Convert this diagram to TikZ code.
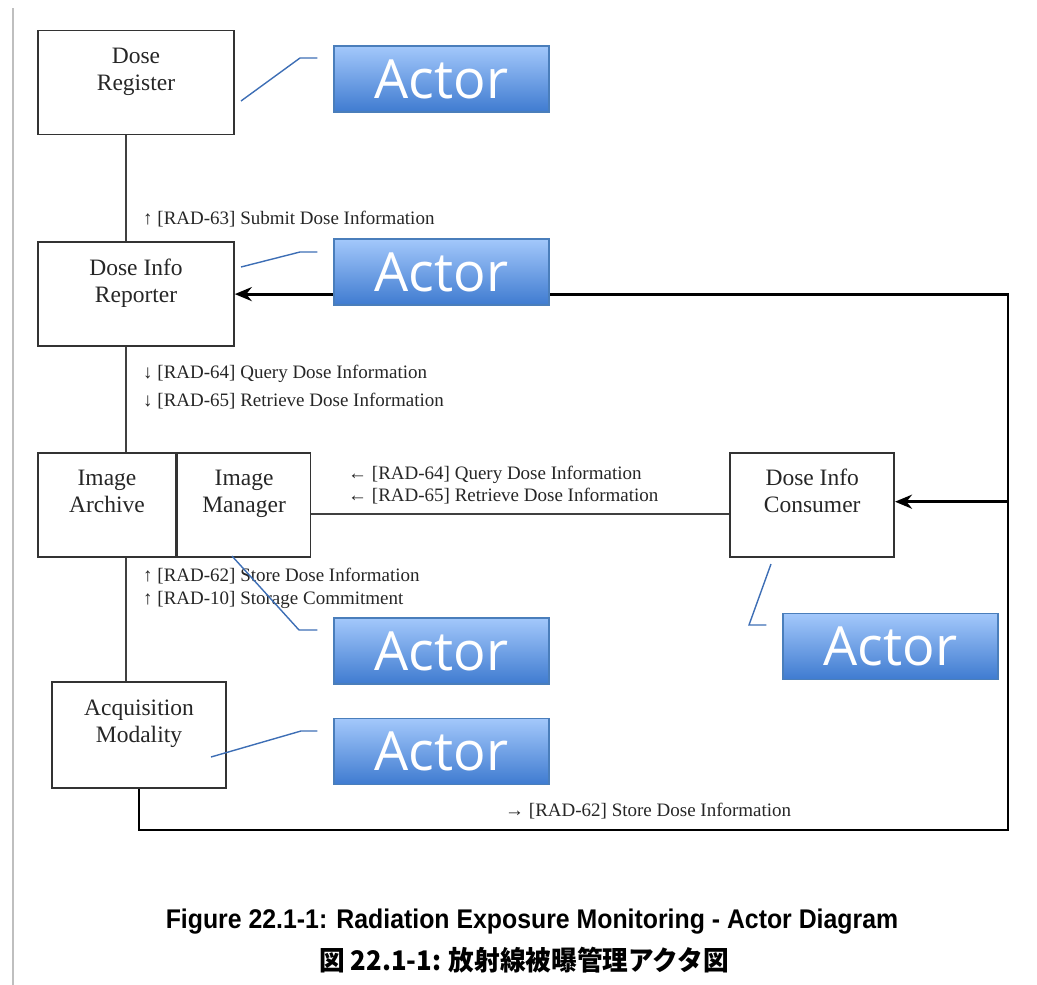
\documentclass[tikz,border=0pt]{standalone}
\usepackage{fontspec}
\setmainfont{Liberation Serif}
\newfontfamily\actorfont{Open Sans}
\newfontfamily\capfont[FakeStretch=0.92]{Liberation Sans}
\newfontfamily\capjp[FakeStretch=0.95]{Noto Sans CJK JP}
\usepackage{tikz}
\usetikzlibrary{
        arrows.meta,
        positioning
    }
\definecolor{boxline}{HTML}{333333}
\definecolor{actortop}{HTML}{A3C8FB}
\definecolor{actorbot}{HTML}{3F7BD0}
\definecolor{actorline}{HTML}{4A7EBB}
\definecolor{calloutcol}{HTML}{3D6EB5}
\tikzset{>={Stealth[length=17pt,width=14pt]}}
\tikzset{
    part/.style={draw=boxline,line width=1.6pt,align=center,inner sep=0pt,
        minimum height=104pt,font=\fontsize{23.5}{27}\selectfont,text=black!85},
    actor/.style={draw=actorline,line width=1.2pt,top color=actortop,bottom color=actorbot,
        minimum width=215pt,minimum height=66pt,text=white,
        font=\actorfont\fontsize{54}{54}\selectfont},
    link/.style={draw=black!75,line width=1.6pt},
    feed/.style={draw=black,line width=2.8pt},
    callout/.style={draw=calloutcol,line width=1.4pt},
    lbl/.style={anchor=west,inner sep=0pt,align=left,text=black!85,
        font=\fontsize{19}{28}\selectfont}
}

\begin{document}
\begin{tikzpicture}[x=1pt,y=-1pt]
    \useasboundingbox (0,0) rectangle (1037,985);
    \draw[black!25,line width=1.5pt] (13,8) -- (13,985);

    % actors of the profile
    \node[part,minimum width=196pt] (reg) at (136,82.5) {Dose\\Register\\~};
    \node[part,minimum width=196pt,below=106pt of reg] (rep) {Dose Info\\Reporter\\~};
    \node[part,minimum width=138pt,below=105pt of rep.south west,anchor=north west] (arc) {Image\\Archive\\~};
    \node[part,minimum width=133pt,right=0pt of arc] (man) {Image\\Manager\\~};
    \node[part,minimum width=164pt,right=418pt of man] (con) {Dose Info\\Consumer\\~};
    \node[part,minimum width=174pt,minimum height=106pt] (acq) at (139,735) {Acquisition\\Modality\\~};

    % transactions
    \draw[link] ([xshift=-10pt]reg.south) -- ([xshift=-10pt]rep.north);
    \draw[link] ([xshift=-10pt]rep.south) -- ([xshift=-10pt]rep.south |- arc.north);
    \draw[link] ([xshift=19pt]arc.south) -- ([xshift=19pt]arc.south |- acq.north);
    \draw[link] ([yshift=-9pt]man.east) -- ([yshift=-9pt]man.east -| con.west);

    \coordinate (rail) at (1008,830);
    \draw[feed,->] (acq.south) |- (rail) -- (rail |- rep.east) -- (rep.east);
    \draw[feed,->] ([yshift=3pt]rail |- con.east) -- ([yshift=3pt]con.east);

    \node[lbl] (t63) at (143,219) {↑ [RAD-63] Submit Dose Information};
    \node[lbl] (t64) at (143,387) {↓ [RAD-64] Query Dose Information\\↓ [RAD-65] Retrieve Dose Information};
    \node[lbl,font=\fontsize{19}{22}\selectfont] (t64c) at (348,485) {← [RAD-64] Query Dose Information\\← [RAD-65] Retrieve Dose Information};
    \node[lbl,font=\fontsize{19}{23}\selectfont] (t62) at (143,588.5) {↑ [RAD-62] Store Dose Information\\↑ [RAD-10] Storage Commitment};
    \node[lbl] (t62r) at (505,811) {→ [RAD-62] Store Dose Information};

    % callouts
    \node[actor] (act1) at (441.5,79) {Actor};
    \node[actor] (act2) at (441.5,272) {Actor};
    \node[actor] (act3) at (441.5,651) {Actor};
    \node[actor] (act4) at (890.5,646.5) {Actor};
    \node[actor] (act5) at (441.5,751.5) {Actor};

    \coordinate (c1) at (241,101);  \coordinate (k1) at (300,58);
    \coordinate (c2) at (241,267);  \coordinate (k2) at (300,252);
    \coordinate (c3) at (232,556);  \coordinate (k3) at (299,630);
    \coordinate (c4) at (771,564);  \coordinate (k4) at (749,625);
    \coordinate (c5) at (211,757);  \coordinate (k5) at (301,731);
    \draw[callout] (c1) -- (k1) -- ([xshift=-16pt]act1.west |- k1);
    \draw[callout] (c2) -- (k2) -- ([xshift=-16pt]act2.west |- k2);
    \draw[callout] (c3) -- (k3) -- ([xshift=-16pt]act3.west |- k3);
    \draw[callout] (c4) -- (k4) -- ([xshift=-16pt]act4.west |- k4);
    \draw[callout] (c5) -- (k5) -- ([xshift=-16pt]act5.west |- k5);

    % caption
    \node[font=\capfont\bfseries\fontsize{27}{27}\selectfont] (cap) at (532,922)
        {Figure 22.1-1: Radiation Exposure Monitoring - Actor Diagram};
    \node[font=\capjp\bfseries\fontsize{27}{27}\selectfont] (capjp) at (524,960)
        {図 22.1-1: 放射線被曝管理アクタ図};
\end{tikzpicture}
\end{document}
